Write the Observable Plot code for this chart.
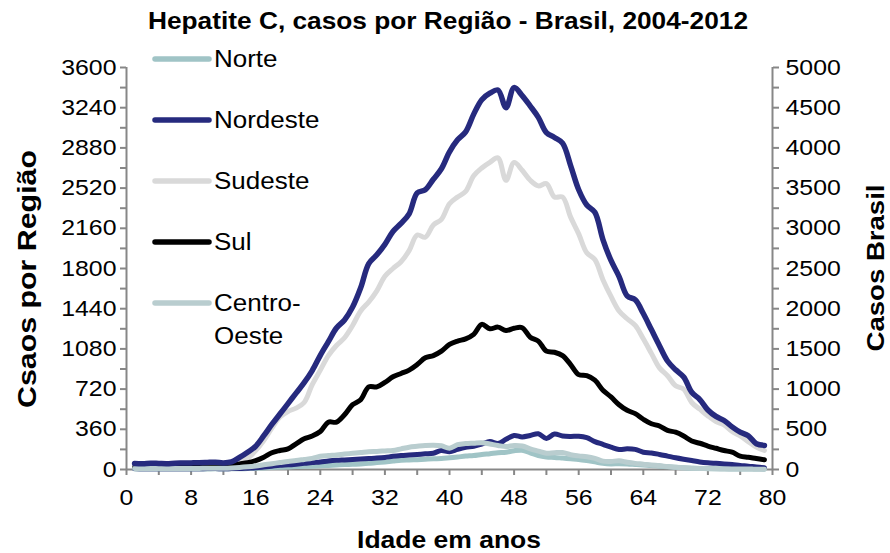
<!DOCTYPE html>
<html>
<head>
<meta charset="utf-8">
<script src="https://cdn.jsdelivr.net/npm/d3@7"></script>
<script src="https://cdn.jsdelivr.net/npm/@observablehq/plot@0.6"></script>
<style>
  body { margin: 0; background: white; }
  #chart { width: 890px; height: 553px; }
</style>
</head>
<body>
<div id="chart"></div>
<script>
const ages = [1,2,3,4,5,6,7,8,9,10,11,12,13,14,15,16,17,18,19,20,21,22,23,24,25,26,27,28,29,30,31,32,33,34,35,36,37,38,39,40,41,42,43,44,45,46,47,48,49,50,51,52,53,54,55,56,57,58,59,60,61,62,63,64,65,66,67,68,69,70,71,72,73,74,75,76,77,78,79];

const norte = [5,4,5,4,4,5,4,5,5,5,6,5,6,6,8,10,14,18,20,22,26,28,30,33,36,40,44,46,50,55,62,68,75,82,85,88,92,96,98,105,112,120,125,135,142,150,155,168,172,150,125,112,108,102,96,90,80,68,55,50,52,50,45,40,36,30,25,20,15,12,10,8,7,6,5,5,4,4,3];

const nordeste = [8,6,7,6,6,7,6,7,7,8,8,7,8,9,12,15,22,30,38,42,48,55,62,68,76,82,86,90,94,98,102,108,118,125,130,135,140,146,170,158,180,198,208,228,250,232,270,305,292,305,320,278,318,300,296,298,285,250,225,200,180,185,180,155,148,135,120,105,92,80,68,60,55,50,44,36,30,22,16];

const sudeste = [25,24,26,25,24,26,27,28,28,30,30,28,35,65,100,170,260,370,470,520,550,600,760,890,1020,1110,1180,1290,1420,1500,1600,1730,1800,1860,1960,2100,2080,2190,2240,2380,2440,2490,2630,2700,2750,2790,2590,2750,2680,2590,2540,2560,2440,2440,2260,2110,1940,1880,1700,1550,1420,1350,1290,1170,1040,910,840,750,720,600,540,480,430,400,340,300,250,200,170];

const sul = [20,18,20,18,18,20,20,22,24,28,30,32,40,50,60,80,110,150,170,185,230,275,300,340,424,424,490,580,625,740,740,780,830,860,890,940,1000,1020,1060,1120,1150,1170,1210,1300,1260,1275,1245,1265,1270,1185,1150,1060,1050,1020,940,850,840,800,710,650,580,530,500,450,410,390,350,334,300,255,235,210,190,170,155,120,110,98,87];

const centroOeste = [10,9,10,9,8,9,9,10,10,11,12,12,14,18,24,32,42,52,62,72,80,90,100,118,125,130,138,145,152,160,162,166,170,185,200,208,215,218,212,190,222,232,236,240,228,215,205,215,210,185,165,145,150,152,132,122,115,100,75,72,78,65,55,48,40,35,26,20,15,12,9,7,6,5,5,4,4,3,3];

// Brasil total, read on the right-hand axis (0-5000)
const brasil = [75,72,78,75,72,78,80,82,85,88,90,82,95,150,215,290,420,560,690,820,950,1080,1230,1420,1590,1760,1860,2020,2260,2560,2670,2800,2960,3060,3180,3440,3480,3610,3740,3950,4100,4200,4420,4600,4680,4720,4500,4750,4650,4520,4380,4190,4130,4060,3780,3480,3290,3200,2860,2600,2400,2160,2110,1940,1740,1540,1350,1240,1150,960,870,740,660,610,530,464,420,320,300];

const seriesNames = ["Norte","Nordeste","Sudeste","Sul","Centro-Oeste"];
const seriesColors = ["#a0c4c6","#262a7e","#d9d9d9","#000000","#b9cdcf"];
const seriesValues = [norte, nordeste, sudeste, sul, centroOeste];
const brasilColor = "#262a7e";

const xTicks = [0,4,8,12,16,20,24,28,32,36,40,44,48,52,56,60,64,68,72,76,80];
const xLabels = [0,8,16,24,32,40,48,56,64,72,80];
const leftTicks = [0,180,360,540,720,900,1080,1260,1440,1620,1800,1980,2160,2340,2520,2700,2880,3060,3240,3420,3600];
const leftLabels = [0,360,720,1080,1440,1800,2160,2520,2880,3240,3600];
const rightTicks = [0,250,500,750,1000,1250,1500,1750,2000,2250,2500,2750,3000,3250,3500,3750,4000,4250,4500,4750,5000];
const rightLabels = [0,500,1000,1500,2000,2500,3000,3500,4000,4500,5000];
const leftMax = 3600, rightMax = 5000;
const ratio = leftMax / rightMax;

const title = "Hepatite C, casos por Região - Brasil, 2004-2012";
const xTitle = "Idade em anos";
const yTitle = "Csaos por Região";
const y2Title = "Casos Brasil";

const regionRows = seriesNames.flatMap((name, i) =>
  ages.map((a, j) => ({age: a, value: seriesValues[i][j], name})));
const brasilRows = ages.map((a, j) => ({age: a, value: brasil[j]}));

const axisColor = "#878787";
const font = "'Liberation Sans', Arial, sans-serif";
const stretchX = 1.13;

const plot = Plot.plot({
  width: 890,
  height: 553,
  marginLeft: 126,
  marginRight: 118,
  marginTop: 67,
  marginBottom: 84,
  style: {fontFamily: font, fontSize: "22px", color: "#000", background: "white", overflow: "visible"},
  x: {domain: [0, 80]},
  y: {domain: [0, leftMax]},
  color: {domain: seriesNames, range: seriesColors},
  marks: [
    Plot.axisX({ticks: xTicks, tickFormat: d => xLabels.includes(d) ? String(d) : "", tickSize: 6, tickPadding: 14, stroke: axisColor, strokeWidth: 2, label: null, fontSize: 22}),
    Plot.axisY({ticks: leftTicks, tickFormat: d => leftLabels.includes(d) ? String(d) : "", tickSize: 6, tickPadding: 4, stroke: axisColor, strokeWidth: 2, label: null, fontSize: 22}),
    Plot.axisY({anchor: "right", ticks: rightTicks.map(v => v * ratio), tickFormat: d => { const v = Math.round(d / ratio); return rightLabels.includes(v) ? String(v) : ""; }, tickSize: 6, tickPadding: 7, stroke: axisColor, strokeWidth: 2, label: null, fontSize: 22}),
    Plot.ruleY([0], {stroke: axisColor, strokeWidth: 2}),
    Plot.ruleX([0], {stroke: axisColor, strokeWidth: 2}),
    Plot.ruleX([80], {stroke: axisColor, strokeWidth: 2}),
    Plot.line(regionRows, {x: "age", y: "value", z: "name", stroke: "name", strokeWidth: 5, curve: "catmull-rom", strokeLinejoin: "round", strokeLinecap: "round"}),
    Plot.line(brasilRows, {x: "age", y: d => d.value * ratio, stroke: brasilColor, strokeWidth: 5.5, curve: "catmull-rom", strokeLinejoin: "round", strokeLinecap: "round"})
  ]
});

document.getElementById("chart").appendChild(plot);

// widen the tick labels slightly, around their own anchor point
plot.querySelectorAll("text").forEach(el => {
  const x = +el.getAttribute("x") || 0;
  const t = el.getAttribute("transform") || "";
  el.setAttribute("transform", `${t} translate(${x},0) scale(${stretchX},1) translate(${-x},0)`);
});

const svg = d3.select(plot);
const addText = (x, y, txt, opts = {}) => {
  const t = svg.append("text")
    .attr("x", 0).attr("y", 0)
    .attr("text-anchor", opts.anchor || "start")
    .attr("font-family", font)
    .attr("font-size", opts.size || 22)
    .attr("font-weight", opts.bold ? "bold" : "normal")
    .attr("transform", `translate(${x},${y})` + (opts.rotate ? " rotate(-90)" : "") + (opts.len ? "" : ` scale(${stretchX},1)`))
    .attr("fill", "#000")
    .text(txt);
  if (opts.len) t.attr("textLength", opts.len).attr("lengthAdjust", "spacingAndGlyphs");
  return t;
};

addText(448, 29, title, {anchor: "middle", bold: true, size: 23, len: 600});
addText(449, 548, xTitle, {anchor: "middle", bold: true, size: 24, len: 184});
addText(36, 279, yTitle, {anchor: "middle", bold: true, size: 25, rotate: true, len: 258});
addText(884, 268, y2Title, {anchor: "middle", bold: true, size: 24, rotate: true, len: 167});

// legend
const legendRows = [59, 120, 181, 242, 303];
seriesNames.forEach((name, i) => {
  const cy = legendRows[i];
  svg.append("line").attr("x1", 155).attr("x2", 209).attr("y1", cy).attr("y2", cy)
    .attr("stroke", seriesColors[i]).attr("stroke-width", 5.5).attr("stroke-linecap", "round");
  if (name === "Centro-Oeste") {
    addText(214, cy + 8, "Centro-", {size: 23});
    addText(214, cy + 41, "Oeste", {size: 23});
  } else {
    addText(214, cy + 8, name, {size: 23});
  }
});
</script>
</body>
</html>
